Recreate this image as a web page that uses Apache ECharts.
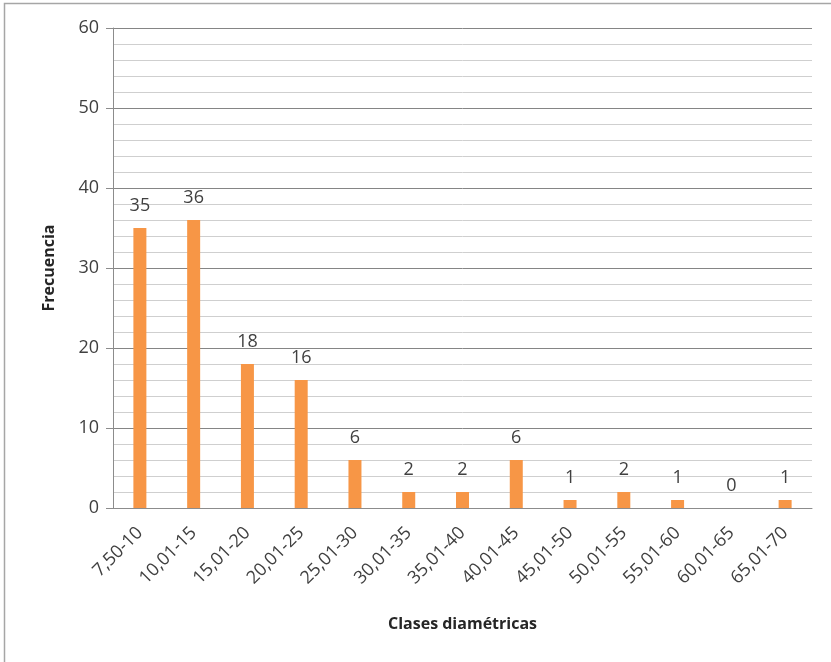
<!DOCTYPE html>
<html>
<head>
<meta charset="utf-8">
<script src="https://cdn.jsdelivr.net/npm/echarts@6/dist/echarts.min.js"></script>
<style>
  html, body { margin: 0; padding: 0; background: #ffffff; }
  #chart { width: 831px; height: 662px; }
</style>
</head>
<body>
<div id="chart"></div>
<script>
// Diameter classes (cm) and tree counts per class
const categories = ['7,50-10', '10,01-15', '15,01-20', '20,01-25', '25,01-30', '30,01-35', '35,01-40',
                    '40,01-45', '45,01-50', '50,01-55', '55,01-60', '60,01-65', '65,01-70'];
const frecuencia = [35, 36, 18, 16, 6, 2, 2, 6, 1, 2, 1, 0, 1];
const yTicks = [0, 10, 20, 30, 40, 50, 60];

const FONT = '"Open Sans", "DejaVu Sans", sans-serif';

const chart = echarts.init(document.getElementById('chart'), null, { renderer: 'canvas' });

chart.setOption({
  backgroundColor: '#ffffff',
  animation: false,
  graphic: [{
    type: 'rect',
    shape: { x: 4.5, y: 3.5, width: 900, height: 700 },
    style: { fill: 'none', stroke: '#a6a6a6', lineWidth: 1.5 },
    silent: true
  }],
  grid: { left: 113, right: 19, top: 28, bottom: 154 },
  xAxis: {
    type: 'category',
    data: categories,
    name: 'Clases diamétricas',
    nameLocation: 'middle',
    nameGap: 108,
    nameTextStyle: { fontFamily: FONT, fontSize: 16, fontWeight: 'bold', color: '#262626' },
    axisLine: { show: true, lineStyle: { color: '#8c8c8c', width: 1 } },
    axisTick: { show: false },
    axisLabel: {
      rotate: 45,
      margin: 22,
      fontFamily: FONT,
      fontSize: 18,
      color: '#404040',
      interval: 0
    }
  },
  yAxis: {
    type: 'value',
    min: yTicks[0],
    max: yTicks[yTicks.length - 1],
    interval: 10,
    name: 'Frecuencia',
    nameLocation: 'middle',
    nameGap: 56,
    nameRotate: 90,
    nameTextStyle: { fontFamily: FONT, fontSize: 16, fontWeight: 'bold', color: '#262626' },
    axisLine: { show: true, lineStyle: { color: '#8c8c8c', width: 1 } },
    axisTick: { show: true, inside: false, length: 7, lineStyle: { color: '#8c8c8c' } },
    axisLabel: {
      margin: 14,
      fontFamily: FONT,
      fontSize: 18,
      color: '#404040'
    },
    splitLine: { show: true, lineStyle: { color: '#858585', width: 1 } },
    minorTick: { show: false, splitNumber: 5 },
    minorSplitLine: { show: true, lineStyle: { color: '#cfcfcf', width: 1 } }
  },
  series: [{
    type: 'bar',
    data: frecuencia,
    barWidth: 13,
    itemStyle: { color: '#F79646' },
    label: {
      show: true,
      position: 'top',
      distance: 13,
      fontFamily: FONT,
      fontSize: 18,
      color: '#404040'
    }
  }]
});
</script>
</body>
</html>
